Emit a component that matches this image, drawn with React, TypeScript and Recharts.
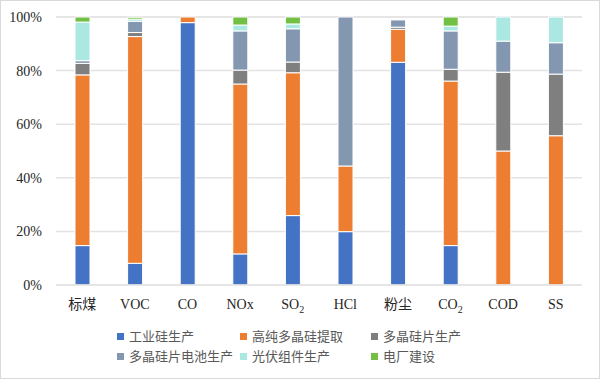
import React from 'react';
import { BarChart, Bar, XAxis, YAxis, CartesianGrid } from 'recharts';

const categories = ['标煤', 'VOC', 'CO', 'NOx', 'SO2', 'HCl', '粉尘', 'CO2', 'COD', 'SS'];
const seriesNames = ['工业硅生产', '高纯多晶硅提取', '多晶硅片生产', '多晶硅片电池生产', '光伏组件生产', '电厂建设'];
const industrialSi = [14.7, 8.1, 97.9, 11.6, 25.9, 19.9, 83.1, 14.7, 0, 0];
const highPuritySi = [63.7, 84.6, 2.1, 63.4, 53.3, 24.5, 12.3, 61.4, 50.0, 55.7];
const waferProd = [4.3, 1.5, 0, 5.2, 4.0, 0, 0.8, 4.4, 29.4, 23.0];
const cellProd = [1.0, 4.2, 0, 14.6, 12.4, 55.6, 2.7, 14.3, 11.6, 11.7];
const moduleProd = [14.4, 0.8, 0, 2.2, 1.8, 0, 0, 1.8, 9.0, 9.6];
const plantBuild = [1.9, 0.7, 0, 3.0, 2.6, 0, 0, 3.4, 0, 0];
const yTicks = [0, 20, 40, 60, 80, 100];
const colors = ['#4472C4', '#ED7D31', '#7F7F7F', '#8497B0', '#ABE8E2', '#72BF44'];
const keys = ['s0', 's1', 's2', 's3', 's4', 's5'];
const seriesValues = [industrialSi, highPuritySi, waferProd, cellProd, moduleProd, plantBuild];

const data = categories.map((c, i) => {
  const row: any = { name: c };
  keys.forEach((k, j) => { row[k] = seriesValues[j][i]; });
  return row;
});

const FONT = '"Liberation Serif", "Times New Roman", "Noto Sans CJK SC", serif';

const XTick = (props: any) => {
  const { x, y, payload } = props;
  const v: string = payload.value;
  const m = v.match(/^(.*?)(\d)$/);
  return (
    <text x={x} y={y + 16} textAnchor="middle" fill="#262626" fontSize={14} fontFamily={FONT}>
      {m ? (
        <>
          <tspan>{m[1]}</tspan>
          <tspan fontSize={10} dy={4}>{m[2]}</tspan>
        </>
      ) : v}
    </text>
  );
};

const legendPos = [
  { x: 117, y: 336 }, { x: 240, y: 336 }, { x: 371, y: 336 },
  { x: 117, y: 356 }, { x: 240, y: 356 }, { x: 371, y: 356 },
];

const ChartLegend = () => (
  <>
    {seriesNames.map((n, i) => (
      <div key={n} style={{ position: 'absolute', left: legendPos[i].x, top: legendPos[i].y - 9, height: 18, display: 'flex', alignItems: 'center', whiteSpace: 'nowrap' }}>
        <span style={{ display: 'inline-block', width: 7, height: 7, background: colors[i], marginRight: 5 }} />
        <span style={{ fontSize: 13, color: '#595959', fontFamily: '"Noto Sans CJK SC", sans-serif', lineHeight: '18px' }}>{n}</span>
      </div>
    ))}
  </>
);

export default function App() {
  return (
    <div style={{ position: 'absolute', left: 0, top: 0, width: 600, height: 379, background: '#fff' }}>
      <div style={{ position: 'absolute', left: 0, top: 0, width: 598, height: 377, border: '1px solid #D9D9D9' }} />
      <BarChart width={600} height={379} data={data} margin={{ top: 17, right: 18, left: 0, bottom: 64 }} barSize={15}>
        <CartesianGrid horizontal vertical={false} stroke="#E3E3E3" strokeWidth={1.5} />
        <XAxis dataKey="name" tick={<XTick />} tickLine={false} axisLine={{ stroke: '#E3E3E3', strokeWidth: 1.5 }} height={30} interval={0} />
        <YAxis width={56} domain={[0, 100]} ticks={yTicks} tickFormatter={(v: number) => `${v}%`} tickLine={false} axisLine={false}
          tick={{ fill: '#262626', fontSize: 14, fontFamily: FONT }} tickMargin={8} />
        {keys.map((k, i) => (
          <Bar key={k} dataKey={k} name={seriesNames[i]} stackId="a" fill={colors[i]} stroke="#fff" strokeWidth={1} isAnimationActive={false} />
        ))}
      </BarChart>
      <ChartLegend />
    </div>
  );
}
